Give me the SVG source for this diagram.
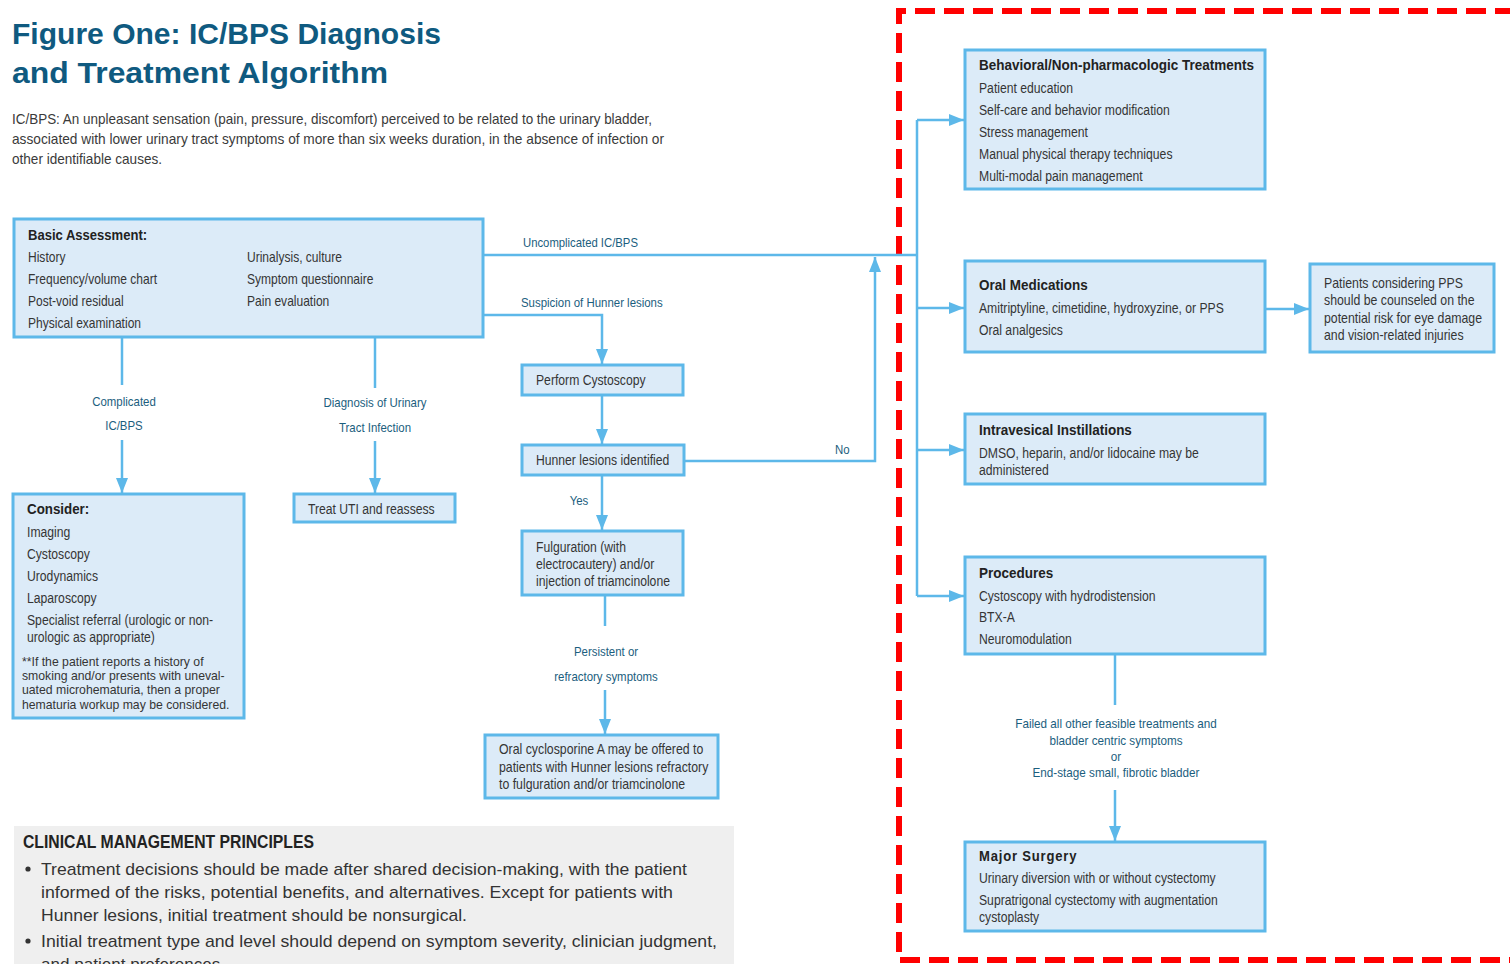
<svg xmlns="http://www.w3.org/2000/svg" width="1510" height="964" viewBox="0 0 1510 964">
  <defs>
    <marker id="arrow" markerUnits="userSpaceOnUse" markerWidth="16" markerHeight="12" viewBox="0 0 16 12" refX="15" refY="6" orient="auto">
      <path d="M0,0 L15,6 L0,12 Z" fill="#5db8e9"/>
    </marker>
    <style>
      .box { fill: #dcebf8; stroke: #5db8e9; stroke-width: 3; }
      .wire { fill: none; stroke: #5db8e9; stroke-width: 2.5; }
      .t { font-family: "Liberation Sans", Arial, sans-serif; font-size: 14px; fill: #353535; }
      .b { font-weight: bold; font-size: 14.5px; fill: #222222; }
      .lbl { font-family: "Liberation Sans", Arial, sans-serif; font-size: 13px; fill: #1b5e7e; }
      .mid { text-anchor: middle; }
      .note { font-size: 12.5px; }
      .title { font-family: "Liberation Sans", Arial, sans-serif; font-size: 30px; font-weight: bold; fill: #0f5a80; }
      .intro { font-family: "Liberation Sans", Arial, sans-serif; font-size: 15px; fill: #3a3a3a; }
      .cmp { font-family: "Liberation Sans", Arial, sans-serif; font-size: 17px; fill: #333333; }
      .cmph { font-family: "Liberation Sans", Arial, sans-serif; font-size: 18px; font-weight: bold; fill: #222222; }
    </style>
  </defs>

  <!-- heading and definition -->
  <g id="heading">
    <text class="title" x="12" y="44" textLength="429" lengthAdjust="spacingAndGlyphs">Figure One: IC/BPS Diagnosis</text>
    <text class="title" x="12" y="83" textLength="376" lengthAdjust="spacingAndGlyphs">and Treatment Algorithm</text>
    <text class="intro" x="12" y="124" textLength="640" lengthAdjust="spacingAndGlyphs">IC/BPS: An unpleasant sensation (pain, pressure, discomfort) perceived to be related to the urinary bladder,</text>
    <text class="intro" x="12" y="144" textLength="652" lengthAdjust="spacingAndGlyphs">associated with lower urinary tract symptoms of more than six weeks duration, in the absence of infection or</text>
    <text class="intro" x="12" y="164" textLength="150" lengthAdjust="spacingAndGlyphs">other identifiable causes.</text>
  </g>

  <!-- treatment region outline -->
  <path d="M1515,11 H899 V960 H1515" fill="none" stroke="#ff0000" stroke-width="6" stroke-dasharray="20 9"/>

  <!-- connectors -->
  <g id="connectors">
    <path class="wire" d="M483,255 H917"/>
    <path class="wire" d="M483,315 H602 V364" marker-end="url(#arrow)"/>
    <path class="wire" d="M602,395 V444" marker-end="url(#arrow)"/>
    <path class="wire" d="M684,461 H875 V257" marker-end="url(#arrow)"/>
    <path class="wire" d="M602,475 V530" marker-end="url(#arrow)"/>
    <path class="wire" d="M605,595 V626"/>
    <path class="wire" d="M605,690 V734" marker-end="url(#arrow)"/>
    <path class="wire" d="M122,337 V385"/>
    <path class="wire" d="M122,440 V493" marker-end="url(#arrow)"/>
    <path class="wire" d="M375,337 V388"/>
    <path class="wire" d="M375,441 V493" marker-end="url(#arrow)"/>
    <path class="wire" d="M917,120 V596"/>
    <path class="wire" d="M917,120 H964" marker-end="url(#arrow)"/>
    <path class="wire" d="M917,308 H964" marker-end="url(#arrow)"/>
    <path class="wire" d="M917,450 H964" marker-end="url(#arrow)"/>
    <path class="wire" d="M917,596 H964" marker-end="url(#arrow)"/>
    <path class="wire" d="M1265,309 H1309" marker-end="url(#arrow)"/>
    <path class="wire" d="M1115,654 V705"/>
    <path class="wire" d="M1115,790 V841" marker-end="url(#arrow)"/>

    <text class="lbl" transform="translate(523,247) scale(.87,1)">Uncomplicated IC/BPS</text>
    <text class="lbl" transform="translate(521,307) scale(.88,1)">Suspicion of Hunner lesions</text>
    <text class="lbl" transform="translate(835,454) scale(.88,1)">No</text>
    <text class="lbl mid" transform="translate(579,505) scale(.88,1)">Yes</text>
    <text class="lbl mid" transform="translate(124,406) scale(.88,1)">Complicated</text>
    <text class="lbl mid" transform="translate(124,430) scale(.88,1)">IC/BPS</text>
    <text class="lbl mid" transform="translate(375,407) scale(.88,1)">Diagnosis of Urinary</text>
    <text class="lbl mid" transform="translate(375,432) scale(.88,1)">Tract Infection</text>
    <text class="lbl mid" transform="translate(606,656) scale(.88,1)">Persistent or</text>
    <text class="lbl mid" transform="translate(606,681) scale(.88,1)">refractory symptoms</text>
    <text class="lbl mid" transform="translate(1116,728) scale(.9,1)">Failed all other feasible treatments and</text>
    <text class="lbl mid" transform="translate(1116,745) scale(.9,1)">bladder centric symptoms</text>
    <text class="lbl mid" transform="translate(1116,761) scale(.9,1)">or</text>
    <text class="lbl mid" transform="translate(1116,777) scale(.9,1)">End-stage small, fibrotic bladder</text>
  </g>

  <g id="basic-assessment">
    <rect class="box" x="14" y="219" width="469" height="118"/>
    <text class="t b" transform="translate(28,240) scale(.9,1)">Basic Assessment:</text>
    <text class="t" transform="translate(28,262) scale(.86,1)">History</text>
    <text class="t" transform="translate(28,284) scale(.86,1)">Frequency/volume chart</text>
    <text class="t" transform="translate(28,306) scale(.86,1)">Post-void residual</text>
    <text class="t" transform="translate(28,328) scale(.86,1)">Physical examination</text>
    <text class="t" transform="translate(247,262) scale(.86,1)">Urinalysis, culture</text>
    <text class="t" transform="translate(247,284) scale(.86,1)">Symptom questionnaire</text>
    <text class="t" transform="translate(247,306) scale(.86,1)">Pain evaluation</text>
  </g>

  <g id="consider">
    <rect class="box" x="13" y="494" width="231" height="224"/>
    <text class="t b" transform="translate(27,514) scale(.92,1)">Consider:</text>
    <text class="t" transform="translate(27,537) scale(.87,1)">Imaging</text>
    <text class="t" transform="translate(27,559) scale(.87,1)">Cystoscopy</text>
    <text class="t" transform="translate(27,581) scale(.87,1)">Urodynamics</text>
    <text class="t" transform="translate(27,603) scale(.87,1)">Laparoscopy</text>
    <text class="t" transform="translate(27,625) scale(.87,1)">Specialist referral (urologic or non-</text>
    <text class="t" transform="translate(27,642) scale(.87,1)">urologic as appropriate)</text>
    <text class="t note" transform="translate(22,666) scale(.98,1)">**If the patient reports a history of</text>
    <text class="t note" transform="translate(22,680) scale(.98,1)">smoking and/or presents with uneval-</text>
    <text class="t note" transform="translate(22,694) scale(.98,1)">uated microhematuria, then a proper</text>
    <text class="t note" transform="translate(22,709) scale(.98,1)">hematuria workup may be considered.</text>
  </g>

  <g id="treat-uti">
    <rect class="box" x="294" y="494" width="161" height="28"/>
    <text class="t" transform="translate(308,514) scale(.87,1)">Treat UTI and reassess</text>
  </g>

  <g id="perform-cystoscopy">
    <rect class="box" x="522" y="365" width="161" height="30"/>
    <text class="t" transform="translate(536,385) scale(.87,1)">Perform Cystoscopy</text>
  </g>

  <g id="hunner-identified">
    <rect class="box" x="522" y="445" width="162" height="30"/>
    <text class="t" transform="translate(536,465) scale(.87,1)">Hunner lesions identified</text>
  </g>

  <g id="fulguration">
    <rect class="box" x="522" y="531" width="161" height="64"/>
    <text class="t" transform="translate(536,552) scale(.87,1)">Fulguration (with</text>
    <text class="t" transform="translate(536,569) scale(.87,1)">electrocautery) and/or</text>
    <text class="t" transform="translate(536,586) scale(.87,1)">injection of triamcinolone</text>
  </g>

  <g id="cyclosporine">
    <rect class="box" x="485" y="735" width="233" height="63"/>
    <text class="t" transform="translate(499,754) scale(.88,1)">Oral cyclosporine A may be offered to</text>
    <text class="t" transform="translate(499,772) scale(.88,1)">patients with Hunner lesions refractory</text>
    <text class="t" transform="translate(499,789) scale(.88,1)">to fulguration and/or triamcinolone</text>
  </g>

  <g id="behavioral">
    <rect class="box" x="965" y="50" width="300" height="139"/>
    <text class="t b" transform="translate(979,70) scale(.93,1)">Behavioral/Non-pharmacologic Treatments</text>
    <text class="t" transform="translate(979,93) scale(.87,1)">Patient education</text>
    <text class="t" transform="translate(979,115) scale(.87,1)">Self-care and behavior modification</text>
    <text class="t" transform="translate(979,137) scale(.87,1)">Stress management</text>
    <text class="t" transform="translate(979,159) scale(.87,1)">Manual physical therapy techniques</text>
    <text class="t" transform="translate(979,181) scale(.87,1)">Multi-modal pain management</text>
  </g>

  <g id="oral-medications">
    <rect class="box" x="965" y="261" width="300" height="91"/>
    <text class="t b" transform="translate(979,290) scale(.93,1)">Oral Medications</text>
    <text class="t" transform="translate(979,313) scale(.87,1)">Amitriptyline, cimetidine, hydroxyzine, or PPS</text>
    <text class="t" transform="translate(979,335) scale(.87,1)">Oral analgesics</text>
  </g>

  <g id="pps-note">
    <rect class="box" x="1310" y="264" width="184" height="88"/>
    <text class="t" transform="translate(1324,288) scale(.88,1)">Patients considering PPS</text>
    <text class="t" transform="translate(1324,305) scale(.88,1)">should be counseled on the</text>
    <text class="t" transform="translate(1324,323) scale(.88,1)">potential risk for eye damage</text>
    <text class="t" transform="translate(1324,340) scale(.88,1)">and vision-related injuries</text>
  </g>

  <g id="intravesical">
    <rect class="box" x="965" y="414" width="300" height="70"/>
    <text class="t b" transform="translate(979,435) scale(.93,1)">Intravesical Instillations</text>
    <text class="t" transform="translate(979,458) scale(.87,1)">DMSO, heparin, and/or lidocaine may be</text>
    <text class="t" transform="translate(979,475) scale(.87,1)">administered</text>
  </g>

  <g id="procedures">
    <rect class="box" x="965" y="557" width="300" height="97"/>
    <text class="t b" transform="translate(979,578) scale(.93,1)">Procedures</text>
    <text class="t" transform="translate(979,601) scale(.87,1)">Cystoscopy with hydrodistension</text>
    <text class="t" transform="translate(979,622) scale(.87,1)">BTX-A</text>
    <text class="t" transform="translate(979,644) scale(.87,1)">Neuromodulation</text>
  </g>

  <g id="major-surgery">
    <rect class="box" x="965" y="842" width="300" height="89"/>
    <text class="t b" transform="translate(979,861) scale(.9,1)" letter-spacing="0.9">Major Surgery</text>
    <text class="t" transform="translate(979,883) scale(.87,1)">Urinary diversion with or without cystectomy</text>
    <text class="t" transform="translate(979,905) scale(.87,1)">Supratrigonal cystectomy with augmentation</text>
    <text class="t" transform="translate(979,922) scale(.87,1)">cystoplasty</text>
  </g>

  <g id="principles">
    <rect x="14" y="826" width="720" height="140" fill="#efefef"/>
    <text class="cmph" x="23" y="848" textLength="291" lengthAdjust="spacingAndGlyphs">CLINICAL MANAGEMENT PRINCIPLES</text>
    <circle cx="28" cy="869" r="2.6" fill="#333333"/>
    <text class="cmp" x="41" y="875" textLength="646" lengthAdjust="spacingAndGlyphs">Treatment decisions should be made after shared decision-making, with the patient</text>
    <text class="cmp" x="41" y="898" textLength="632" lengthAdjust="spacingAndGlyphs">informed of the risks, potential benefits, and alternatives. Except for patients with</text>
    <text class="cmp" x="41" y="921" textLength="426" lengthAdjust="spacingAndGlyphs">Hunner lesions, initial treatment should be nonsurgical.</text>
    <circle cx="28" cy="941" r="2.6" fill="#333333"/>
    <text class="cmp" x="41" y="947" textLength="676" lengthAdjust="spacingAndGlyphs">Initial treatment type and level should depend on symptom severity, clinician judgment,</text>
    <text class="cmp" x="41" y="970" textLength="184" lengthAdjust="spacingAndGlyphs">and patient preferences.</text>
  </g>
</svg>
